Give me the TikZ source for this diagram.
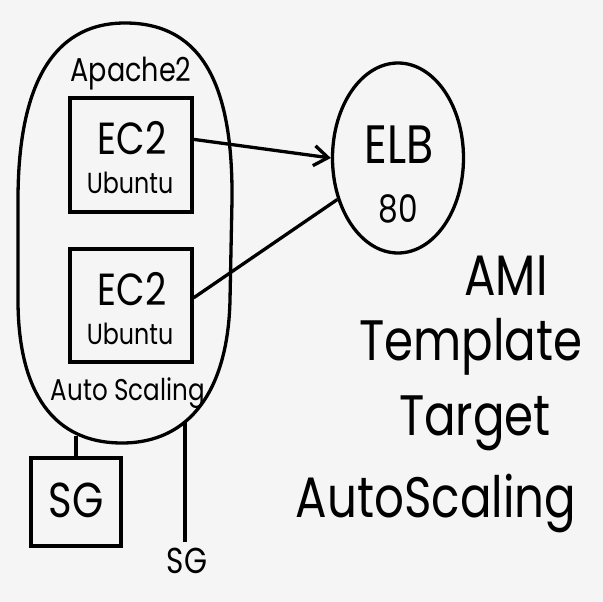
\documentclass[tikz,border=0pt]{standalone}
\usepackage{fontspec}
\newfontfamily\handfont[FakeStretch=0.82]{Poppins}
\newcommand\hand[1]{\handfont\fontsize{#1}{#1}\selectfont}
\usetikzlibrary{shapes.geometric,arrows.meta}

\begin{document}
\begin{tikzpicture}[x=1pt,y=-1pt,
    wire/.style={line width=3.3pt},
    box/.style={draw,line width=3.3pt,inner sep=0pt},
    txt/.style={anchor=base,inner sep=0pt}]

      % paper
      \fill[black!4] (0,0) rectangle (603,602);

      % the auto scaling group, drawn by hand
      \draw[wire] (125,23) .. controls (205,23) and (233,90) .. (232,200)
        -- (230,300) .. controls (228,390) and (190,443) .. (122,443)
        .. controls (45,443) and (18,380) .. (18,300)
        -- (18,200) .. controls (18,90) and (50,23) .. cycle;
      \node[txt] (apache) at (131,82) {\hand{33}Apache2};
      \node[txt] (autoscl) at (128,400) {\hand{30}Auto Scaling};

      % two instances
      \node[box,minimum width=122pt,minimum height=114pt] (ec2a) at (131,155) {};
      \node[txt] (ec2atop) at (132,154) {\hand{45}EC2};
      \node[txt] (ec2abot) at (130,193) {\hand{29}Ubuntu};

      \node[box,minimum width=122pt,minimum height=113pt] (ec2b) at (131,305.5) {};
      \node[txt] (ec2btop) at (132,305) {\hand{45}EC2};
      \node[txt] (ec2bbot) at (130,344) {\hand{29}Ubuntu};

      % load balancer
      \node[box,ellipse,minimum width=131pt,minimum height=190pt] (elb) at (398,158) {};
      \node[txt] (elbname) at (399,163) {\hand{54}ELB};
      \node[txt] (elbport) at (398,222) {\hand{38}80};

      \draw[wire,-{Straight Barb[length=14pt,width=20pt]}] (ec2a.14) -- (elb.west);
      \draw[wire] (ec2b.7) -- (elb);

      % security groups
      \node[box,minimum width=90pt,minimum height=88pt] (sgbox) at (76,502) {};
      \node[txt] (sgboxtxt) at (76,517) {\hand{49}SG};
      \coordinate (asleft) at (76,436);
      \draw[wire] (sgbox.north) -- (asleft);

      \coordinate (asright) at (185,422);
      \coordinate (sgend) at (185,542);
      \draw[wire] (asright) -- (sgend);
      \node[txt] (sglabel) at (187,573) {\hand{36}SG};

      % notes
      \node[txt] (ami) at (506,295) {\hand{57}AMI};
      \node[txt] (tmpl) at (471,360) {\hand{57}Template};
      \node[txt] (tgt) at (475,435) {\hand{57}Target};
      \node[txt] (asg) at (436,517) {\hand{57}AutoScaling};

    \end{tikzpicture}
\end{document}
